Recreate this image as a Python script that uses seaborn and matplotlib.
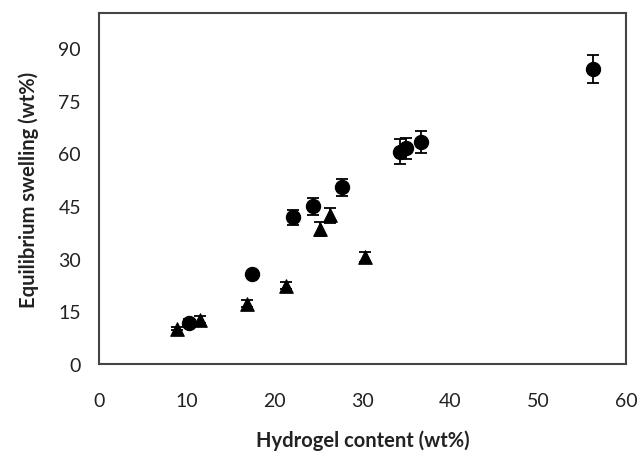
import matplotlib
matplotlib.use("Agg")
import matplotlib.pyplot as plt
import seaborn as sns
import pandas as pd

# Series 1: circles
circ_x = [10.2, 17.4, 22.1, 24.4, 27.7, 34.3, 34.9, 36.6, 56.2]
circ_y = [11.7, 25.6, 41.8, 44.9, 50.3, 60.5, 61.5, 63.2, 84.0]
circ_err = [1.0, 1.0, 2.2, 2.5, 2.5, 3.5, 3.0, 3.2, 4.0]

# Series 2: triangles
tri_x = [8.85, 11.5, 16.8, 21.3, 25.1, 26.3, 30.3]
tri_y = [10.0, 12.6, 17.1, 22.3, 38.5, 42.3, 30.4]
tri_err = [0.5, 1.0, 1.0, 1.0, 2.0, 2.2, 1.5]

x_ticks = [0, 10, 20, 30, 40, 50, 60]
y_ticks = [0, 15, 30, 45, 60, 75, 90]

sns.set_style("white")
plt.rcParams['font.family'] = ['Lato', 'DejaVu Sans']

fig = plt.figure(figsize=(6.39, 4.56), dpi=100)
ax = fig.add_axes([0.155, 0.2, 0.825, 0.769])

dfc = pd.DataFrame({"x": circ_x, "y": circ_y})
dft = pd.DataFrame({"x": tri_x, "y": tri_y})

ax.errorbar(circ_x, circ_y, yerr=circ_err, fmt='none', ecolor='black',
            elinewidth=1.3, capsize=4, capthick=1.3, zorder=2)
ax.errorbar(tri_x, tri_y, yerr=tri_err, fmt='none', ecolor='black',
            elinewidth=1.3, capsize=4, capthick=1.3, zorder=2)
sns.scatterplot(data=dfc, x="x", y="y", marker='o', s=105, color='black',
                edgecolor='black', ax=ax, zorder=3)
sns.scatterplot(data=dft, x="x", y="y", marker='^', s=95, color='black',
                edgecolor='black', ax=ax, zorder=3)

ax.set_xlim(0, 60)
ax.set_ylim(0, 100)
ax.set_xticks(x_ticks)
ax.set_yticks(y_ticks)
ax.tick_params(axis='both', direction='out', length=6, width=1.2,
               labelsize=14, color='#333333', labelcolor='#222222')
ax.tick_params(axis='y', pad=7)
ax.tick_params(axis='x', pad=14)
for s in ax.spines.values():
    s.set_color('#444444')
    s.set_linewidth(1.5)

ax.set_xlabel("Hydrogel content (wt%)", fontsize=14.5, fontweight='bold',
              labelpad=15, color='#222222')
ax.set_ylabel("Equilibrium swelling (wt%)", fontsize=14.5, fontweight='bold',
              labelpad=14, color='#222222')

fig.savefig("out.png", dpi=100)
